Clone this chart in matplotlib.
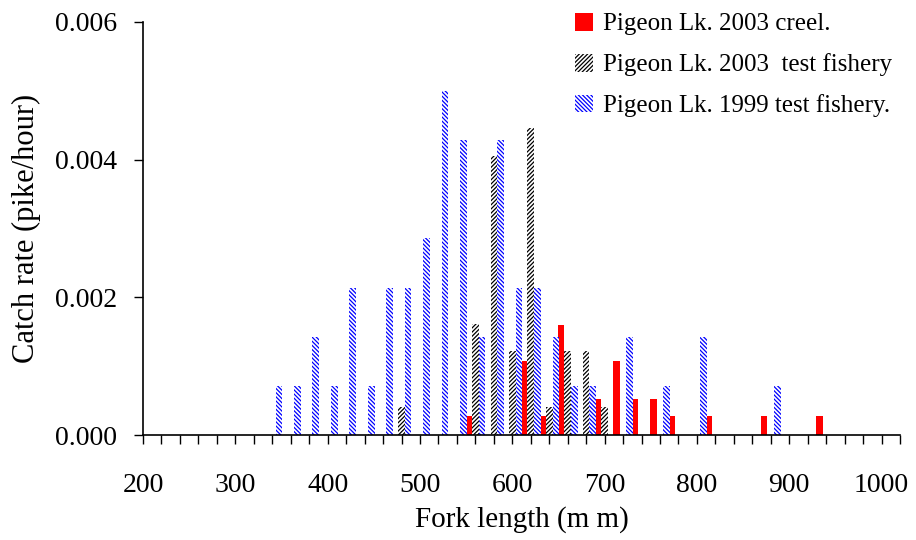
import numpy as np
import matplotlib
matplotlib.use("Agg")
import matplotlib.pyplot as plt

plt.rcParams['font.family'] = ['Liberation Serif', 'DejaVu Serif']
plt.rcParams['hatch.linewidth'] = 0.9

# fork length class (mm) and catch rate (pike/hour)
creel_len = [560, 620, 640, 660, 700, 720, 740, 760, 780, 820, 880, 940]
creel_rate = [0.00027, 0.00107, 0.00027, 0.00160, 0.00053, 0.00107,
              0.00053, 0.00053, 0.00027, 0.00027, 0.00027, 0.00027]

test03_len = [480, 560, 580, 600, 620, 640, 660, 680, 700]
test03_rate = [0.00041, 0.00162, 0.00405, 0.00122, 0.00446, 0.00041,
               0.00122, 0.00122, 0.00041]

test99_len = [340, 360, 380, 400, 420, 440, 460, 480, 500, 520, 540,
              560, 580, 600, 620, 640, 660, 680, 720, 760, 800, 880]
test99_rate = [0.00071, 0.00071, 0.00143, 0.00071, 0.00214, 0.00071,
               0.00214, 0.00214, 0.00286, 0.00500, 0.00429, 0.00143,
               0.00429, 0.00214, 0.00214, 0.00143, 0.00071, 0.00071,
               0.00143, 0.00071, 0.00143, 0.00071]

w = 7.2  # bar width in mm

fig = plt.figure(figsize=(9.16, 5.4), dpi=100)
ax = fig.add_axes([0.1561, 0.1944, 0.8265, 0.7649])

b1 = ax.bar(np.array(creel_len) - w, creel_rate, width=w, color='red',
            linewidth=0, label='Pigeon Lk. 2003 creel.')
b2 = ax.bar(np.array(test03_len), test03_rate, width=w, facecolor='white',
            edgecolor='black', hatch='////////', linewidth=0,
            label='Pigeon Lk. 2003  test fishery')
b3 = ax.bar(np.array(test99_len) + w, test99_rate, width=w, facecolor='white',
            edgecolor='blue', hatch='\\\\\\\\\\\\\\\\', linewidth=0,
            label='Pigeon Lk. 1999 test fishery.')

ax.set_xlim(200, 1020)
ax.set_ylim(0, 0.006)
xt = np.arange(200, 1021, 20)
ax.set_xticks(xt)
ax.set_xticklabels([str(v) if v % 100 == 0 and v <= 1000 else '' for v in xt])
ax.set_yticks([0, 0.002, 0.004, 0.006])
ax.set_yticklabels(['0.000', '0.002', '0.004', '0.006'])
ax.tick_params(axis='both', direction='out', length=6.5, width=1,
               labelsize=20, colors='black')
ax.tick_params(axis='x', pad=21)
ax.tick_params(axis='y', pad=12)

for s in ['top', 'right']:
    ax.spines[s].set_visible(False)
for s in ['left', 'bottom']:
    ax.spines[s].set_linewidth(1.2)

ax.set_xlabel('Fork length (m m)', fontsize=21, labelpad=6)
ax.set_ylabel('Catch rate (pike/hour)', fontsize=22, labelpad=10)

ax.legend(handles=[b1, b2, b3], loc='upper left',
          bbox_to_anchor=(0.617, 0.995), bbox_transform=fig.transFigure,
          frameon=False, fontsize=18, handlelength=0.72, handleheight=0.72,
          handletextpad=0.4, labelspacing=0.72, borderaxespad=0)

fig.savefig('out.png', dpi=100)
